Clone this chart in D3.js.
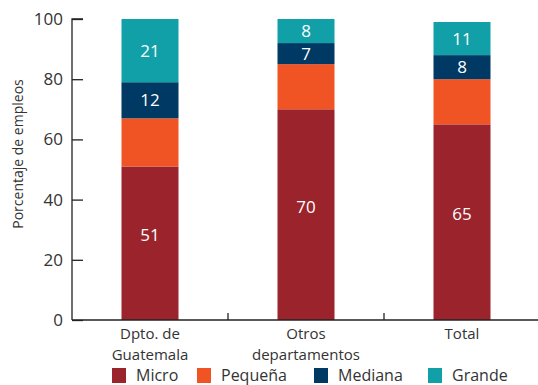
<!DOCTYPE html>
<html><head><meta charset="utf-8">
<script src="https://cdn.jsdelivr.net/npm/d3@7"></script>
<style>body{margin:0;background:#fff}svg{display:block}text{font-family:"Open Sans",Lato,sans-serif}</style>
</head><body><svg id="c" width="538" height="385"></svg>
<script>
const categories = [["Dpto. de","Guatemala"],["Otros","departamentos"],["Total"]];
const seriesNames = ["Micro","Pequeña","Mediana","Grande"];
const colors = ["#9A232C","#F05425","#003963","#12A0A8"];
const micro = [51,70,65];
const pequena = [16,15,15];
const mediana = [12,7,8];
const grande = [21,8,11];
const showLabel = [true,false,true,true];
const yTicks = [0,20,40,60,80,100];

(function(){
const svg = d3.select("#c");
const mL = 72, mR = 540, mT = 19, mB = 320;
const x = d3.scaleBand().domain(d3.range(categories.length)).range([mL, mR]).padding(0);
const y = d3.scaleLinear().domain([0,100]).range([mB, mT]);
const barW = 57;

const data = categories.map((c,i)=>({i, Micro:micro[i], "Pequeña":pequena[i], Mediana:mediana[i], Grande:grande[i]}));
const stack = d3.stack().keys(seriesNames)(data);

stack.forEach((layer,k)=>{
  svg.append("g").selectAll("rect").data(layer).join("rect")
    .attr("x", d=>x(d.data.i)+x.bandwidth()/2-barW/2)
    .attr("width", barW)
    .attr("y", d=>y(d[1]))
    .attr("height", d=>y(d[0])-y(d[1]))
    .attr("fill", colors[k]);
  if (showLabel[k]) {
    svg.append("g").selectAll("text").data(layer).join("text")
      .attr("x", d=>x(d.data.i)+x.bandwidth()/2)
      .attr("y", d=>(y(d[0])+y(d[1]))/2 - (k===0?8:0))
      .attr("dy","0.36em")
      .attr("text-anchor","middle")
      .attr("fill","#fff")
      .attr("font-size",17)
      .text(d=>d[1]-d[0]);
  }
});

// y axis
const ya = svg.append("g").attr("transform",`translate(${mL},0)`)
  .call(d3.axisRight(y).tickValues(yTicks).tickSize(11).tickFormat(d=>d));
ya.select(".domain").attr("d",`M11,${mT}H0V${mB}`).attr("stroke","#222").attr("stroke-width",1.3);
ya.selectAll(".tick line").attr("stroke","#222").attr("stroke-width",1.3);
ya.selectAll(".tick text").attr("x",-9).attr("text-anchor","end").attr("font-size",17).attr("fill","#333").attr("font-family","Open Sans");

// x axis
svg.append("line").attr("x1",mL).attr("x2",538).attr("y1",mB).attr("y2",mB).attr("stroke","#222").attr("stroke-width",1.3);
x.domain().slice(1).forEach(i=>{
  svg.append("line").attr("x1",x(i)).attr("x2",x(i)).attr("y1",mB).attr("y2",mB-7).attr("stroke","#222").attr("stroke-width",1.3);
});
categories.forEach((lines,i)=>{
  lines.forEach((l,j)=>svg.append("text").attr("text-anchor","middle").attr("font-size",15).attr("fill","#333")
    .attr("x",x(i)+x.bandwidth()/2).attr("y",339+j*20.5).text(l));
});

// y label
svg.append("text").attr("transform","translate(23,154) rotate(-90)").attr("text-anchor","middle")
  .attr("font-size",14).attr("fill","#333").text("Porcentaje de empleos");

// legend
const legX = [112,197,314,428];
seriesNames.forEach((n,k)=>{
  svg.append("rect").attr("x",legX[k]).attr("y",368).attr("width",14).attr("height",15).attr("fill",colors[k]);
  svg.append("text").attr("x",legX[k]+24).attr("y",381).attr("font-size",16).attr("fill","#333").text(n);
});
})();
</script></body></html>
